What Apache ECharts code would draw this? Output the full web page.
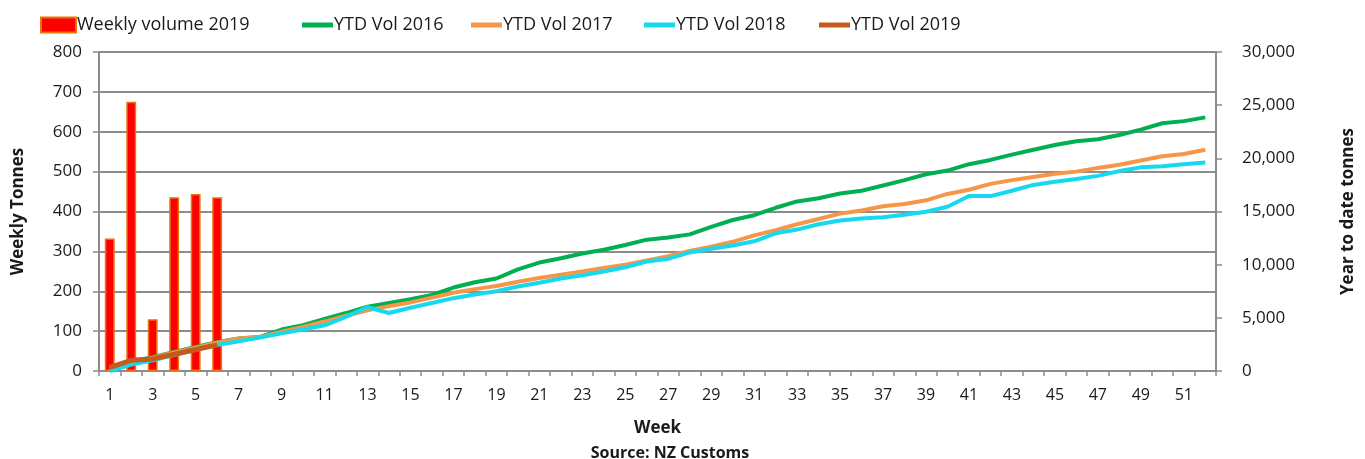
<!DOCTYPE html>
<html><head><meta charset="utf-8">
<script src="https://cdn.jsdelivr.net/npm/echarts@6/dist/echarts.min.js"></script>
<style>html,body{margin:0;padding:0;background:#fff}#c{width:1365px;height:459px}</style>
</head><body><div id="c"></div>
<script>
const weeks = Array.from({length:52},(_,i)=>String(i+1));
const weekly2019 = [332, 675, 130, 436, 444, 436];
const ytd2016 = [300,900,1300,1800,2250,2700,3050,3200,3900,4300,4900,5450,6050,6400,6750,7150,7850,8350,8700,9550,10200,10600,11050,11400,11850,12350,12550,12850,13550,14200,14650,15350,15950,16250,16700,16950,17450,17950,18500,18850,19450,19850,20350,20800,21250,21600,21800,22200,22700,23300,23500,23850];
const ytd2017 = [250,800,1250,1750,2200,2650,3050,3200,3700,4150,4650,5200,5700,6100,6450,6900,7350,7700,8000,8400,8750,9050,9350,9700,10000,10400,10800,11300,11700,12150,12750,13250,13800,14300,14800,15100,15500,15700,16050,16650,17050,17600,17950,18250,18550,18750,19100,19400,19800,20200,20400,20800];
const ytd2018 = [0,600,1000,1500,2000,2450,2800,3150,3550,3900,4300,5100,6000,5450,5950,6400,6850,7200,7500,7950,8300,8700,9000,9350,9750,10300,10550,11150,11500,11800,12200,12950,13300,13800,14150,14350,14450,14700,14980,15450,16450,16450,16950,17500,17800,18050,18350,18800,19150,19250,19450,19600];
const ytd2019 = [332, 1007, 1137, 1573, 2017, 2453];
const leftTicks = {min:0, max:800, interval:100};
const rightTicks = {min:0, max:30000, interval:5000};

const FONT = 'Open Sans';
const C = {bar:'#FF0000', barBorder:'#E8730F', g:'#00B050', o:'#F79646', c:'#16D8EE', b:'#C65A1E', grid:'#8C8C8C', txt:'#1a1a1a'};
const chart = echarts.init(document.getElementById('c'));
function lineLegend(name, left){
  return {show:true, left:left, top:11, data:[name], icon:'rect', itemWidth:31, itemHeight:5, itemGap:0,
    textStyle:{fontFamily:FONT, fontSize:18, color:C.txt, padding:[0,0,0,-4]}, selectedMode:false};
}
chart.setOption({
  animation:false,
  textStyle:{fontFamily:FONT},
  legend:[
    {left:35, top:11, data:['Weekly volume 2019'], icon:'rect', itemWidth:35, itemHeight:15,
     textStyle:{fontFamily:FONT, fontSize:18, color:C.txt, padding:[0,0,0,-4]}, selectedMode:false},
    lineLegend('YTD Vol 2016', 297),
    lineLegend('YTD Vol 2017', 466),
    lineLegend('YTD Vol 2018', 639),
    lineLegend('YTD Vol 2019', 814)
  ],
  title:{text:'Source: NZ Customs', left:665, top:440, textAlign:'center',
    textStyle:{fontFamily:FONT, fontSize:16, fontWeight:'bold', color:C.txt}},
  grid:{left:99, right:134, top:52, bottom:88, containLabel:false},
  xAxis:{type:'category', data:weeks, boundaryGap:true,
    name:'Week', nameLocation:'middle', nameGap:49,
    nameTextStyle:{fontFamily:FONT, fontSize:17, fontWeight:'bold', color:C.txt},
    axisLine:{lineStyle:{color:C.grid, width:2}},
    axisTick:{show:true, interval:0, length:5, lineStyle:{color:C.grid, width:1.5}},
    axisLabel:{interval:1, margin:16, fontFamily:FONT, fontSize:16, color:C.txt},
    splitLine:{show:false}},
  yAxis:[
    {type:'value', min:leftTicks.min, max:leftTicks.max, interval:leftTicks.interval, position:'left',
     name:'Weekly Tonnes', nameLocation:'middle', nameRotate:90, nameGap:72,
     nameTextStyle:{fontFamily:FONT, fontSize:17, fontWeight:'bold', color:C.txt},
     axisLine:{show:true, lineStyle:{color:C.grid, width:2}},
     axisTick:{show:true, length:6, lineStyle:{color:C.grid, width:1.5}},
     axisLabel:{margin:17, fontFamily:FONT, fontSize:17, color:C.txt},
     splitLine:{show:true, lineStyle:{color:C.grid, width:2}}},
    {type:'value', min:rightTicks.min, max:rightTicks.max, interval:rightTicks.interval, position:'right',
     name:'Year to date tonnes', nameLocation:'middle', nameRotate:90, nameGap:124,
     nameTextStyle:{fontFamily:FONT, fontSize:17, fontWeight:'bold', color:C.txt},
     axisLine:{show:true, lineStyle:{color:C.grid, width:2}},
     axisTick:{show:true, length:6, lineStyle:{color:C.grid, width:1.5}},
     axisLabel:{margin:26, fontFamily:FONT, fontSize:17, color:C.txt,
       formatter:v=>v.toLocaleString('en-US')},
     splitLine:{show:false}}
  ],
  series:[
    {name:'Weekly volume 2019', type:'bar', yAxisIndex:0, data:weekly2019, barWidth:'46%', z:2,
     itemStyle:{color:C.bar, borderColor:C.barBorder, borderWidth:1.5}},
    {name:'YTD Vol 2016', type:'line', yAxisIndex:1, data:ytd2016, showSymbol:false, symbol:'none', z:3,
     lineStyle:{color:C.g, width:4}, itemStyle:{color:C.g}},
    {name:'YTD Vol 2017', type:'line', yAxisIndex:1, data:ytd2017, showSymbol:false, symbol:'none', z:4,
     lineStyle:{color:C.o, width:4}, itemStyle:{color:C.o}},
    {name:'YTD Vol 2018', type:'line', yAxisIndex:1, data:ytd2018, showSymbol:false, symbol:'none', z:5,
     lineStyle:{color:C.c, width:4}, itemStyle:{color:C.c}},
    {name:'YTD Vol 2019', type:'line', yAxisIndex:1, data:ytd2019, showSymbol:false, symbol:'none', z:6,
     lineStyle:{color:C.b, width:5}, itemStyle:{color:C.b}}
  ]
});
</script></body></html>
